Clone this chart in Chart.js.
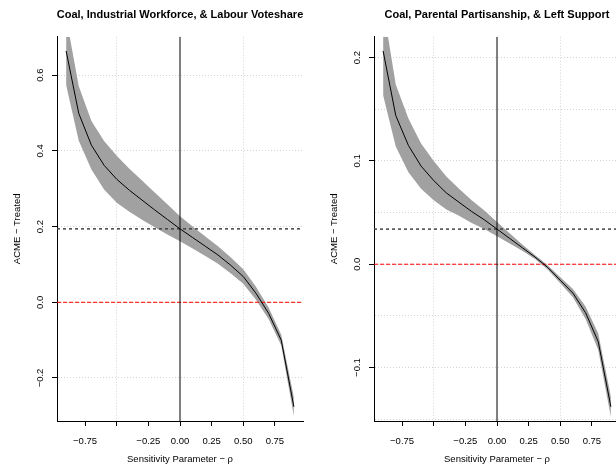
<!DOCTYPE html>
<html>
<head>
<meta charset="utf-8">
<script src="https://cdn.jsdelivr.net/npm/chart.js@4/dist/chart.umd.min.js"></script>
<style>
  html, body { margin: 0; padding: 0; background: #fff; overflow: hidden; width: 616px; height: 467px; }
  canvas { position: absolute; top: 0; }
  #left { left: 0; }
  #right { left: 317px; }
</style>
</head>
<body>
<canvas id="left" width="308" height="467"></canvas>
<canvas id="right" width="308" height="467"></canvas>
<script>
// sensitivity parameter (rho) grid
const rho = [-0.9, -0.8, -0.7, -0.6, -0.5, -0.4, -0.3, -0.2, -0.1, 0, 0.1, 0.2, 0.3, 0.4, 0.5, 0.6, 0.7, 0.8, 0.9];

// left panel: Coal, Industrial Workforce, & Labour Voteshare
const leftEst = [0.664, 0.499, 0.415, 0.362, 0.325, 0.296, 0.270, 0.244, 0.219, 0.194, 0.171, 0.148, 0.125, 0.098, 0.068, 0.024, -0.029, -0.100, -0.276];
const leftLower = [0.574, 0.427, 0.351, 0.298, 0.263, 0.239, 0.218, 0.198, 0.179, 0.161, 0.142, 0.122, 0.102, 0.077, 0.049, 0.007, -0.044, -0.114, -0.301];
const leftUpper = [0.754, 0.571, 0.479, 0.426, 0.387, 0.353, 0.322, 0.290, 0.259, 0.227, 0.200, 0.174, 0.148, 0.119, 0.087, 0.041, -0.014, -0.086, -0.251];

// right panel: Coal, Parental Partisanship, & Left Support
const rightEst = [0.2065, 0.144, 0.115, 0.095, 0.081, 0.069, 0.060, 0.051, 0.043, 0.034, 0.025, 0.016, 0.007, -0.003, -0.0155, -0.028, -0.047, -0.075, -0.138];
const rightLower = [0.1635, 0.114, 0.089, 0.073, 0.062, 0.053, 0.047, 0.040, 0.034, 0.027, 0.020, 0.013, 0.005, -0.005, -0.0185, -0.032, -0.053, -0.083, -0.148];
const rightUpper = [0.2495, 0.174, 0.141, 0.117, 0.100, 0.085, 0.073, 0.062, 0.052, 0.041, 0.030, 0.019, 0.009, -0.001, -0.0125, -0.024, -0.041, -0.067, -0.128];

// axes
const xMin = -0.972, xMax = 0.972;
const xTicks = [-0.75, -0.5, -0.25, 0, 0.25, 0.5, 0.75];
const xTickLabels = ['\u22120.75', '', '\u22120.25', '0.00', '0.25', '0.50', '0.75'];
const xGrid = [-0.5, 0.5];

const leftYMin = -0.3136, leftYMax = 0.7016;
const leftYTicks = [-0.2, 0, 0.2, 0.4, 0.6];
const leftYLabels = ['\u22120.2', '0.0', '0.2', '0.4', '0.6'];
const leftYGrid = [-0.2, 0, 0.2, 0.4, 0.6];

const rightYMin = -0.1518, rightYMax = 0.2203;
const rightYTicks = [-0.1, 0, 0.1, 0.2];
const rightYLabels = ['\u22120.1', '0.0', '0.1', '0.2'];
const rightYGrid = [-0.15, -0.1, -0.05, 0, 0.05, 0.1, 0.15, 0.2];

Chart.defaults.font.family = '"Liberation Sans", Arial, sans-serif';
Chart.defaults.font.size = 9.5;
Chart.defaults.color = '#000';

const panelTitle = {
  id: 'panelTitle',
  afterDraw(chart, args, opts) {
    const {ctx, chartArea} = chart;
    ctx.save();
    ctx.font = 'bold 11px "Liberation Sans", Arial, sans-serif';
    ctx.fillStyle = '#000';
    ctx.textAlign = 'center';
    ctx.textBaseline = 'alphabetic';
    ctx.fillText(opts.text, (chartArea.left + chartArea.right) / 2, 17.5);
    ctx.restore();
  }
};

const near = (a, b) => Math.abs(a - b) < 1e-9;
const hasVal = (list, v) => list.some(t => near(t, v));

function panel(id, p) {
  const pts = arr => rho.map((r, i) => ({x: r, y: arr[i]}));
  const d0 = p.est[rho.indexOf(0)];
  const clear = 'rgba(0,0,0,0)';
  new Chart(document.getElementById(id), {
    type: 'line',
    plugins: [panelTitle],
    data: {
      datasets: [
        {data: pts(p.lower), borderColor: clear, borderWidth: 1, pointRadius: 0, fill: false, order: 5},
        {data: pts(p.upper), borderColor: clear, borderWidth: 1, pointRadius: 0, fill: '-1', backgroundColor: '#a1a1a1', order: 4},
        {data: [{x: xMin, y: 0}, {x: xMax, y: 0}], borderColor: '#ff0000', borderWidth: 1, borderDash: [4, 2], pointRadius: 0, order: 3},
        {data: [{x: xMin, y: d0}, {x: xMax, y: d0}], borderColor: '#444', borderWidth: 1.5, borderDash: [3, 3], pointRadius: 0, order: 2},
        {data: [{x: 0, y: p.yMin}, {x: 0, y: p.yMax}], borderColor: '#000', borderWidth: 1, pointRadius: 0, order: 1},
        {data: pts(p.est), borderColor: '#000', borderWidth: 1, pointRadius: 0, order: 0}
      ]
    },
    options: {
      responsive: false,
      animation: false,
      layout: {padding: {top: 36.7, right: 5, left: 0, bottom: 0}},
      plugins: {
        legend: {display: false},
        tooltip: {enabled: false},
        title: {display: false},
        panelTitle: {text: p.title}
      },
      scales: {
        x: {
          type: 'linear',
          min: xMin,
          max: xMax,
          afterBuildTicks: s => { s.ticks = xTicks.map(v => ({value: v})); },
          afterFit: s => { s.height = 46; },
          ticks: {
            autoSkip: false,
            maxRotation: 0,
            minRotation: 0,
            padding: 9.5,
            callback: v => xTickLabels[xTicks.findIndex(t => near(t, v))]
          },
          grid: {
            color: c => (c.tick && hasVal(xGrid, c.tick.value) ? '#d3d3d3' : clear),
            tickColor: '#000',
            tickLength: 5
          },
          border: {color: '#000', width: 1, dash: [1, 2]},
          title: {display: true, text: 'Sensitivity Parameter \u2212 \u03c1', padding: {top: 0, bottom: 1.5}}
        },
        y: {
          type: 'linear',
          min: p.yMin,
          max: p.yMax,
          afterBuildTicks: s => { s.ticks = p.yGrid.map(v => ({value: v})); },
          afterFit: s => { s.width = 57; },
          ticks: {
            autoSkip: false,
            minRotation: 90,
            maxRotation: 90,
            crossAlign: 'center',
            padding: 2,
            callback: v => {
              const i = p.yTicks.findIndex(t => near(t, v));
              return i < 0 ? '' : p.yLabels[i];
            }
          },
          grid: {
            color: '#d3d3d3',
            tickColor: c => (c.tick && hasVal(p.yTicks, c.tick.value) ? '#000' : clear),
            tickLength: 5
          },
          border: {color: '#000', width: 1, dash: [1, 2]},
          title: {display: true, text: 'ACME \u2212 Treated', padding: {top: 11.3, bottom: 0}}
        }
      }
    }
  });
}

panel('left', {
  title: 'Coal, Industrial Workforce, & Labour Voteshare',
  est: leftEst, lower: leftLower, upper: leftUpper,
  yMin: leftYMin, yMax: leftYMax,
  yTicks: leftYTicks, yLabels: leftYLabels, yGrid: leftYGrid
});

panel('right', {
  title: 'Coal, Parental Partisanship, & Left Support',
  est: rightEst, lower: rightLower, upper: rightUpper,
  yMin: rightYMin, yMax: rightYMax,
  yTicks: rightYTicks, yLabels: rightYLabels, yGrid: rightYGrid
});
</script>
</body>
</html>
